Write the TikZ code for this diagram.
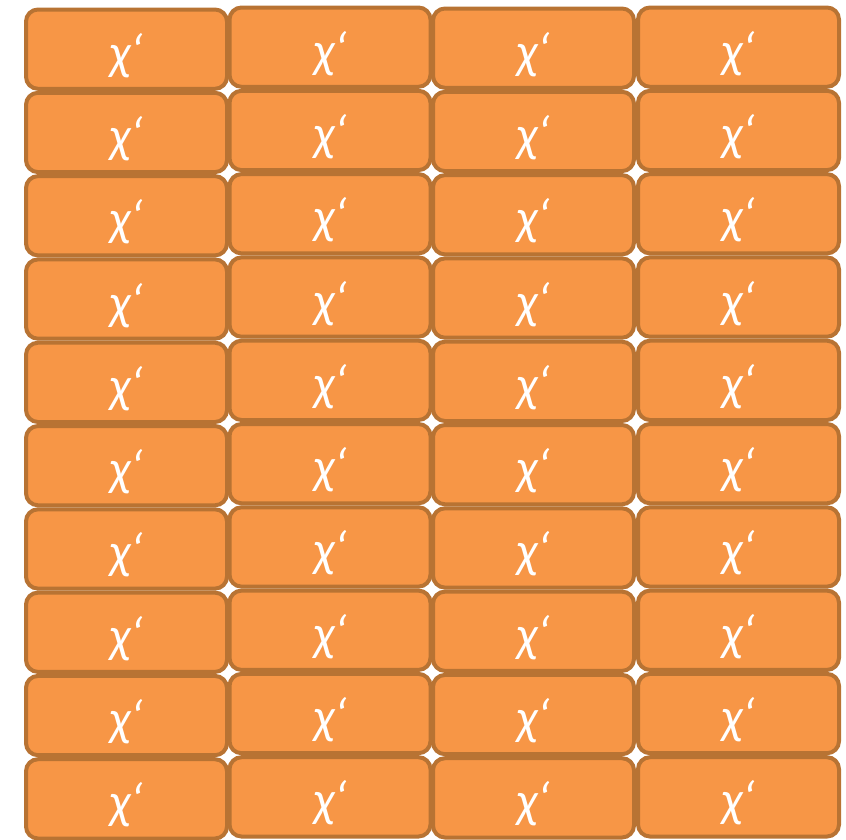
\documentclass[tikz,border=0pt]{standalone}
\usepackage{fontspec}
\setmainfont{Carlito}
\definecolor{boxfill}{HTML}{F79646}
\definecolor{boxline}{HTML}{B87333}
\begin{document}
\begin{tikzpicture}[x=1pt,y=-1pt,
  cell/.style={draw=boxline, fill=boxfill, line width=4pt, rounded corners=12pt,
    minimum width=201pt, minimum height=79.3pt, inner sep=0pt, text=white,
    text height=48pt, text depth=8pt,
    font=\fontsize{50}{50}\selectfont\itshape}]
\useasboundingbox (0,0) rectangle (846,839);
\foreach \c/\x/\y in {1/126.5/7.5, 2/330/5.5, 3/533.5/6.5, 4/738.5/5.5}{
  \foreach \r in {1,...,10}{
    \node[cell] (b-\r-\c) at (\x, {\y + 41.65 + (\r-1)*83.3}) {χ‘};
  }
}
\end{tikzpicture}
\end{document}
